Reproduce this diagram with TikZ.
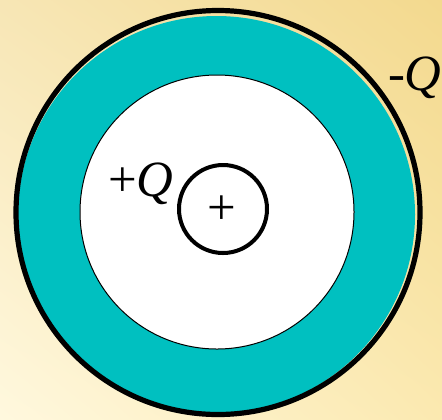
\documentclass[tikz,border=0pt]{standalone}
\usepackage{fontspec}
\setmainfont{Liberation Serif}
\usetikzlibrary{shadings}
\definecolor{shellteal}{HTML}{00C0C0}
\definecolor{bgUL}{HTML}{F7E6B5}
\definecolor{bgUR}{HTML}{F3D98E}
\definecolor{bgLL}{HTML}{FFF8DE}
\definecolor{bgLR}{HTML}{FBE9B0}
\begin{document}
\begin{tikzpicture}[x=1bp,y=-1bp,
  chargelabel/.style={inner sep=0pt,outer sep=0pt,font=\fontsize{51}{56}\selectfont},
  ring/.style={draw=black,line width=5.2bp},
  sphere/.style={draw=black,line width=4bp}]
\useasboundingbox (0,0) rectangle (442,419);
\shade[upper left=bgUL,upper right=bgUR,lower left=bgLL,lower right=bgLR] (0,0) rectangle (442,419);
% conducting shell (teal)
\fill[shellteal] (216.5,214.5) circle[radius=198.5bp];
\draw[ring] (218,212.5) circle[radius=202bp];
% cavity
\filldraw[fill=white,draw=black,line width=1bp] (217,212) circle[radius=137bp];
% inner sphere
\node[sphere,circle,minimum size=88bp,inner sep=0pt] (ball) at (223,209) {};
\node[chargelabel] (plus) at (221.5,210) {+};
\node[chargelabel,anchor=base west] (qin) at (108,196) {+\textit{Q}};
\node[chargelabel,anchor=base west] (qout) at (388,90) {-\textit{Q}};
\end{tikzpicture}
\end{document}
